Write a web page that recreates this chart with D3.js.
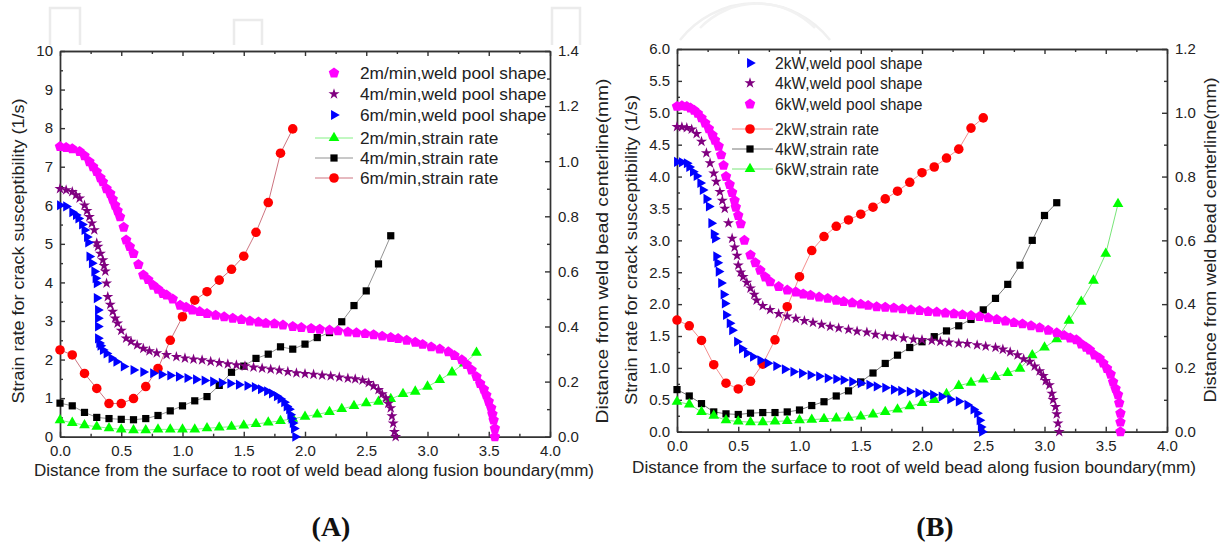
<!DOCTYPE html>
<html>
<head>
<meta charset="utf-8">
<script src="https://cdn.jsdelivr.net/npm/d3@7"></script>
<style>
  body { margin: 0; background: #fff; }
  svg text { font-family: "Liberation Sans", Arial, sans-serif; fill: #222; }
</style>
</head>
<body>
<div id="chart"></div>
<script>
// ---------- panel A : welding speed ----------
// weld pool shape, distance from centerline (mm, right axis)
const poolA2m = [[0,1.053],[0.05,1.05],[0.1,1.045],[0.16,1.035],[0.2,1.02],[0.24,0.998],[0.27,0.98],[0.3,0.962],[0.33,0.94],[0.35,0.925],[0.38,0.9],[0.41,0.883],[0.43,0.862],[0.45,0.84],[0.47,0.82],[0.49,0.798],[0.52,0.76],[0.54,0.714],[0.57,0.69],[0.6,0.665],[0.64,0.625],[0.68,0.587],[0.72,0.57],[0.76,0.55],[0.8,0.535],[0.84,0.52],[0.87,0.514],[0.92,0.5],[0.98,0.477],[1.03,0.47],[1.08,0.46],[1.14,0.454],[1.2,0.447],[1.27,0.441],[1.34,0.435],[1.41,0.43],[1.48,0.425],[1.55,0.42],[1.62,0.416],[1.68,0.412],[1.75,0.41],[1.82,0.405],[1.9,0.4],[1.97,0.396],[2.05,0.393],[2.12,0.39],[2.2,0.387],[2.27,0.384],[2.35,0.38],[2.42,0.377],[2.49,0.374],[2.56,0.37],[2.63,0.365],[2.7,0.36],[2.76,0.356],[2.83,0.35],[2.9,0.343],[2.96,0.335],[3.03,0.326],[3.1,0.318],[3.17,0.308],[3.22,0.295],[3.28,0.279],[3.32,0.262],[3.36,0.242],[3.4,0.218],[3.43,0.193],[3.46,0.172],[3.48,0.151],[3.5,0.128],[3.52,0.104],[3.53,0.082],[3.54,0.06],[3.55,0.03],[3.55,0]];
const poolA4m = [[0,0.9],[0.05,0.895],[0.1,0.889],[0.13,0.877],[0.16,0.865],[0.2,0.84],[0.22,0.82],[0.24,0.798],[0.26,0.775],[0.28,0.75],[0.3,0.703],[0.31,0.69],[0.33,0.665],[0.35,0.641],[0.36,0.62],[0.37,0.6],[0.38,0.557],[0.39,0.508],[0.41,0.48],[0.43,0.454],[0.45,0.43],[0.47,0.412],[0.5,0.385],[0.54,0.357],[0.58,0.345],[0.63,0.333],[0.68,0.32],[0.73,0.311],[0.79,0.304],[0.87,0.297],[0.95,0.29],[1.02,0.285],[1.09,0.281],[1.16,0.278],[1.23,0.273],[1.3,0.268],[1.37,0.264],[1.44,0.26],[1.51,0.256],[1.58,0.252],[1.65,0.248],[1.72,0.245],[1.79,0.241],[1.86,0.236],[1.93,0.231],[2.0,0.228],[2.07,0.226],[2.14,0.223],[2.21,0.22],[2.28,0.216],[2.35,0.212],[2.41,0.209],[2.47,0.205],[2.52,0.196],[2.56,0.184],[2.6,0.17],[2.63,0.155],[2.66,0.14],[2.68,0.12],[2.7,0.104],[2.71,0.075],[2.72,0.049],[2.73,0.018],[2.74,0]];
const poolA6m = [[0,0.84],[0.05,0.836],[0.1,0.815],[0.13,0.805],[0.15,0.792],[0.18,0.77],[0.2,0.75],[0.22,0.725],[0.23,0.705],[0.24,0.654],[0.26,0.63],[0.28,0.6],[0.29,0.575],[0.3,0.557],[0.3,0.503],[0.31,0.46],[0.31,0.43],[0.31,0.4],[0.31,0.357],[0.32,0.34],[0.33,0.33],[0.35,0.315],[0.38,0.302],[0.42,0.285],[0.46,0.272],[0.52,0.255],[0.6,0.242],[0.68,0.235],[0.76,0.23],[0.83,0.226],[0.9,0.222],[0.97,0.218],[1.04,0.213],[1.11,0.208],[1.18,0.204],[1.25,0.2],[1.32,0.196],[1.39,0.193],[1.46,0.189],[1.53,0.185],[1.59,0.18],[1.64,0.172],[1.69,0.165],[1.73,0.157],[1.77,0.147],[1.8,0.137],[1.83,0.125],[1.85,0.11],[1.87,0.1],[1.88,0.08],[1.89,0.065],[1.9,0.05],[1.91,0.03],[1.92,0]];
// strain rate (1/s, left axis)
const strainA2m = [[0,0.43],[0.1,0.36],[0.2,0.3],[0.3,0.26],[0.4,0.22],[0.5,0.19],[0.6,0.17],[0.7,0.17],[0.8,0.19],[0.9,0.19],[1.0,0.19],[1.1,0.19],[1.2,0.22],[1.3,0.24],[1.4,0.26],[1.5,0.29],[1.6,0.33],[1.7,0.37],[1.8,0.41],[1.9,0.47],[2.0,0.52],[2.1,0.58],[2.2,0.64],[2.3,0.72],[2.4,0.8],[2.5,0.87],[2.6,0.91],[2.7,0.98],[2.8,1.11],[2.9,1.17],[3.0,1.3],[3.1,1.47],[3.2,1.67],[3.3,1.9],[3.4,2.18]];
const strainA4m = [[0,0.87],[0.1,0.8],[0.2,0.63],[0.3,0.5],[0.4,0.47],[0.5,0.45],[0.6,0.44],[0.7,0.47],[0.8,0.55],[0.9,0.67],[1.0,0.8],[1.1,0.93],[1.2,1.04],[1.3,1.33],[1.4,1.67],[1.5,1.83],[1.6,2.03],[1.7,2.14],[1.8,2.33],[1.9,2.27],[2.0,2.4],[2.1,2.57],[2.2,2.7],[2.3,2.98],[2.4,3.4],[2.5,3.78],[2.6,4.48],[2.7,5.21]];
const strainA6m = [[0,2.25],[0.1,2.12],[0.2,1.64],[0.3,1.25],[0.4,0.86],[0.5,0.86],[0.6,0.99],[0.7,1.3],[0.8,1.77],[0.9,2.5],[1.0,3.11],[1.1,3.54],[1.2,3.76],[1.3,4.06],[1.4,4.34],[1.5,4.68],[1.6,5.3],[1.7,6.07],[1.8,7.35],[1.9,7.98]];

// ---------- panel B : laser power ----------
const poolB2kW = [[0,0.846],[0.04,0.845],[0.08,0.842],[0.1,0.83],[0.13,0.815],[0.16,0.802],[0.19,0.78],[0.21,0.758],[0.24,0.73],[0.26,0.706],[0.28,0.654],[0.3,0.62],[0.31,0.606],[0.32,0.55],[0.33,0.53],[0.34,0.502],[0.36,0.466],[0.38,0.43],[0.39,0.402],[0.4,0.366],[0.43,0.34],[0.45,0.318],[0.49,0.282],[0.53,0.26],[0.57,0.246],[0.62,0.235],[0.68,0.224],[0.74,0.215],[0.81,0.206],[0.88,0.196],[0.95,0.188],[1.02,0.183],[1.09,0.178],[1.16,0.174],[1.23,0.168],[1.3,0.165],[1.36,0.162],[1.43,0.157],[1.5,0.152],[1.57,0.147],[1.63,0.142],[1.7,0.138],[1.77,0.132],[1.83,0.128],[1.9,0.126],[1.97,0.122],[2.03,0.118],[2.09,0.116],[2.16,0.11],[2.23,0.102],[2.3,0.095],[2.37,0.084],[2.42,0.07],[2.45,0.058],[2.47,0.036],[2.48,0.015],[2.49,0]];
const poolB4kW = [[0,0.956],[0.04,0.955],[0.08,0.953],[0.12,0.948],[0.16,0.934],[0.2,0.91],[0.24,0.874],[0.27,0.842],[0.3,0.81],[0.32,0.784],[0.35,0.752],[0.37,0.725],[0.39,0.7],[0.42,0.654],[0.45,0.606],[0.47,0.578],[0.49,0.552],[0.5,0.522],[0.52,0.5],[0.54,0.486],[0.57,0.468],[0.6,0.45],[0.63,0.43],[0.65,0.412],[0.7,0.395],[0.76,0.382],[0.83,0.37],[0.9,0.362],[0.97,0.355],[1.04,0.348],[1.11,0.342],[1.18,0.336],[1.25,0.33],[1.32,0.325],[1.4,0.32],[1.47,0.315],[1.55,0.312],[1.62,0.305],[1.7,0.3],[1.77,0.298],[1.85,0.294],[1.93,0.29],[2.0,0.288],[2.08,0.286],[2.15,0.283],[2.22,0.28],[2.3,0.277],[2.37,0.276],[2.45,0.272],[2.52,0.268],[2.6,0.264],[2.66,0.258],[2.72,0.25],[2.78,0.24],[2.83,0.228],[2.88,0.22],[2.92,0.205],[2.96,0.19],[2.99,0.175],[3.01,0.16],[3.04,0.146],[3.06,0.12],[3.07,0.1],[3.09,0.078],[3.1,0.055],[3.11,0.026],[3.12,0]];
const poolB6kW = [[0,1.02],[0.04,1.022],[0.08,1.02],[0.11,1.015],[0.14,1.008],[0.17,0.998],[0.2,0.984],[0.23,0.968],[0.26,0.95],[0.29,0.93],[0.31,0.914],[0.34,0.895],[0.36,0.868],[0.38,0.835],[0.4,0.8],[0.43,0.775],[0.45,0.75],[0.47,0.725],[0.48,0.704],[0.5,0.678],[0.52,0.652],[0.55,0.6],[0.6,0.554],[0.64,0.53],[0.68,0.506],[0.72,0.485],[0.76,0.47],[0.83,0.455],[0.9,0.444],[0.97,0.438],[1.03,0.432],[1.09,0.428],[1.16,0.422],[1.23,0.418],[1.3,0.412],[1.36,0.408],[1.43,0.404],[1.5,0.4],[1.56,0.396],[1.63,0.392],[1.7,0.39],[1.77,0.388],[1.84,0.385],[1.91,0.382],[1.98,0.38],[2.05,0.377],[2.12,0.375],[2.19,0.372],[2.26,0.37],[2.33,0.367],[2.4,0.364],[2.47,0.361],[2.54,0.357],[2.61,0.352],[2.68,0.347],[2.75,0.342],[2.82,0.338],[2.89,0.332],[2.96,0.326],[3.03,0.318],[3.1,0.31],[3.16,0.302],[3.21,0.294],[3.26,0.288],[3.3,0.275],[3.34,0.265],[3.37,0.256],[3.41,0.24],[3.45,0.23],[3.48,0.215],[3.51,0.198],[3.54,0.18],[3.56,0.156],[3.58,0.135],[3.6,0.116],[3.61,0.09],[3.62,0.058],[3.62,0.03],[3.62,0]];
const strainB2kW = [[0,1.75],[0.1,1.66],[0.2,1.43],[0.3,1.05],[0.4,0.76],[0.5,0.67],[0.6,0.79],[0.7,1.06],[0.8,1.44],[0.9,1.96],[1.0,2.43],[1.1,2.84],[1.2,3.06],[1.3,3.22],[1.4,3.32],[1.5,3.41],[1.6,3.52],[1.7,3.65],[1.8,3.77],[1.9,3.91],[2.0,4.06],[2.1,4.15],[2.2,4.29],[2.3,4.43],[2.4,4.76],[2.5,4.92]];
const strainB4kW = [[0,0.66],[0.1,0.56],[0.2,0.44],[0.3,0.31],[0.4,0.28],[0.5,0.27],[0.6,0.29],[0.7,0.3],[0.8,0.3],[0.9,0.31],[1.0,0.34],[1.1,0.41],[1.2,0.47],[1.3,0.56],[1.4,0.64],[1.5,0.78],[1.6,0.92],[1.7,1.07],[1.8,1.2],[1.9,1.32],[2.0,1.41],[2.1,1.49],[2.2,1.58],[2.3,1.66],[2.4,1.76],[2.5,1.91],[2.6,2.09],[2.7,2.31],[2.8,2.61],[2.9,3.0],[3.0,3.39],[3.1,3.59]];
const strainB6kW = [[0,0.47],[0.1,0.43],[0.2,0.31],[0.3,0.25],[0.4,0.18],[0.5,0.16],[0.6,0.15],[0.7,0.15],[0.8,0.16],[0.9,0.17],[1.0,0.18],[1.1,0.19],[1.2,0.2],[1.3,0.21],[1.4,0.22],[1.5,0.24],[1.6,0.27],[1.7,0.31],[1.8,0.35],[1.9,0.4],[2.0,0.45],[2.1,0.5],[2.2,0.59],[2.3,0.72],[2.4,0.77],[2.5,0.82],[2.6,0.86],[2.7,0.92],[2.8,0.99],[2.9,1.2],[3.0,1.32],[3.1,1.45],[3.2,1.74],[3.3,2.04],[3.4,2.37],[3.5,2.79],[3.6,3.57]];

// ticks
const xMajor = [0, 0.5, 1, 1.5, 2, 2.5, 3, 3.5, 4];
const xMinor = [0.25, 0.75, 1.25, 1.75, 2.25, 2.75, 3.25, 3.75];
const yLeftMajorA = [0, 1, 2, 3, 4, 5, 6, 7, 8, 9, 10];
const yLeftMinorA = [0.5, 1.5, 2.5, 3.5, 4.5, 5.5, 6.5, 7.5, 8.5, 9.5];
const yRightMajorA = [0, 0.2, 0.4, 0.6, 0.8, 1.0, 1.2, 1.4];
const yRightMinorA = [0.1, 0.3, 0.5, 0.7, 0.9, 1.1, 1.3];
const yLeftMajorB = [0, 0.5, 1, 1.5, 2, 2.5, 3, 3.5, 4, 4.5, 5, 5.5, 6];
const yLeftMinorB = [0.25, 0.75, 1.25, 1.75, 2.25, 2.75, 3.25, 3.75, 4.25, 4.75, 5.25, 5.75];
const yRightMajorB = [0, 0.2, 0.4, 0.6, 0.8, 1.0, 1.2];
const yRightMinorB = [0.1, 0.3, 0.5, 0.7, 0.9, 1.1];

const xTitle = 'Distance from the surface to root of weld bead along fusion boundary(mm)';
const yLeftTitle = 'Strain rate for crack susceptibility (1/s)';
const yRightTitle = 'Distance from weld bead centerline(mm)';

const COL = {magenta: '#ff00ff', purple: '#800080', blue: '#0000ff', green: '#00ff00', black: '#000000', red: '#ff0000'};

// custom symbols
const symPentagon = {
  draw(ctx, size) {
    const r = Math.sqrt(size / 2.378);
    for (let k = 0; k < 5; k++) {
      const a = -Math.PI / 2 + k * 2 * Math.PI / 5;
      if (k === 0) ctx.moveTo(r * Math.cos(a), r * Math.sin(a));
      else ctx.lineTo(r * Math.cos(a), r * Math.sin(a));
    }
    ctx.closePath();
  }
};
const symRightTri = {
  draw(ctx, size) {
    const r = Math.sqrt(size / 1.299);
    ctx.moveTo(r, 0);
    ctx.lineTo(-r / 2, r * 0.866);
    ctx.lineTo(-r / 2, -r * 0.866);
    ctx.closePath();
  }
};
const MARK = {
  pentagon: {type: symPentagon, size: 72},
  star: {type: d3.symbolStar, size: 38},
  rtri: {type: symRightTri, size: 44},
  tri: {type: d3.symbolTriangle, size: 50},
  square: {type: d3.symbolSquare, size: 52},
  circle: {type: d3.symbolCircle, size: 72}
};

const svg = d3.select('#chart').append('svg')
    .attr('width', 1224)
    .attr('height', 550);

// faint watermark shapes from the source page
const deco = svg.append('g').attr('fill', 'none').attr('stroke', '#ebebeb').attr('stroke-width', 2.5);
deco.append('path').attr('d', 'M50,45V8H80V45');
deco.append('path').attr('d', 'M234,45V20H262V45');
deco.append('path').attr('d', 'M552,45V8H580V45');
deco.append('path').attr('d', 'M680,40 A 95 95 0 0 1 830,40').attr('stroke', '#f0f0f0');
deco.append('path').attr('d', 'M700,28 A 80 80 0 0 1 815,28').attr('stroke', '#f2f2f2');

function drawPanel(cfg) {
  const x = d3.scaleLinear().domain([0, 4]).range([cfg.x0, cfg.x1]);
  const yL = d3.scaleLinear().domain([0, cfg.yLmax]).range([cfg.y1, cfg.y0]);
  const yR = d3.scaleLinear().domain([0, cfg.yRmax]).range([cfg.y1, cfg.y0]);
  const g = svg.append('g');

  const styleAxis = sel => {
    sel.selectAll('path, line').attr('stroke', '#333').attr('stroke-width', 1.4);
    sel.selectAll('text').attr('font-size', 15).attr('fill', '#222')
      .style('font-family', '"Liberation Sans", Arial, sans-serif');
  };

  // bottom
  g.append('g').attr('transform', `translate(0,${cfg.y1})`)
    .call(d3.axisBottom(x).tickValues(xMajor).tickSizeInner(-5).tickSizeOuter(0).tickPadding(9).tickFormat(d3.format('.1f')))
    .call(styleAxis);
  g.append('g').attr('transform', `translate(0,${cfg.y1})`)
    .call(d3.axisBottom(x).tickValues(xMinor).tickSizeInner(-3).tickSizeOuter(0).tickFormat(''))
    .call(styleAxis);
  // top (mirror)
  g.append('g').attr('transform', `translate(0,${cfg.y0})`)
    .call(d3.axisTop(x).tickValues(xMajor).tickSizeInner(-5).tickSizeOuter(0).tickFormat(''))
    .call(styleAxis);
  g.append('g').attr('transform', `translate(0,${cfg.y0})`)
    .call(d3.axisTop(x).tickValues(xMinor).tickSizeInner(-3).tickSizeOuter(0).tickFormat(''))
    .call(styleAxis);
  // left
  g.append('g').attr('transform', `translate(${cfg.x0},0)`)
    .call(d3.axisLeft(yL).tickValues(cfg.yLmajor).tickSizeInner(-5).tickSizeOuter(0).tickPadding(7).tickFormat(cfg.yLfmt))
    .call(styleAxis);
  g.append('g').attr('transform', `translate(${cfg.x0},0)`)
    .call(d3.axisLeft(yL).tickValues(cfg.yLminor).tickSizeInner(-3).tickSizeOuter(0).tickFormat(''))
    .call(styleAxis);
  // right
  g.append('g').attr('transform', `translate(${cfg.x1},0)`)
    .call(d3.axisRight(yR).tickValues(cfg.yRmajor).tickSizeInner(-5).tickSizeOuter(0).tickPadding(8).tickFormat(d3.format('.1f')))
    .call(styleAxis);
  g.append('g').attr('transform', `translate(${cfg.x1},0)`)
    .call(d3.axisRight(yR).tickValues(cfg.yRminor).tickSizeInner(-3).tickSizeOuter(0).tickFormat(''))
    .call(styleAxis);

  // axis titles (stretched to the widths seen in the figure)
  g.append('text').attr('x', cfg.xTitleX).attr('y', cfg.xTitleY)
    .attr('text-anchor', 'middle').attr('font-size', 16)
    .attr('textLength', cfg.xTitleLen).attr('lengthAdjust', 'spacingAndGlyphs').text(xTitle);
  g.append('text').attr('transform', `translate(${cfg.yLTitleX},${cfg.yLTitleY}) rotate(-90)`)
    .attr('text-anchor', 'middle').attr('font-size', 16)
    .attr('textLength', cfg.yLTitleLen).attr('lengthAdjust', 'spacingAndGlyphs').text(yLeftTitle);
  g.append('text').attr('transform', `translate(${cfg.yRTitleX},${cfg.yRTitleY}) rotate(-90)`)
    .attr('text-anchor', 'middle').attr('font-size', 16)
    .attr('textLength', cfg.yRTitleLen).attr('lengthAdjust', 'spacingAndGlyphs').text(yRightTitle);

  // strain rate series (left axis): thin line + markers
  const line = d3.line().x(d => x(d[0])).y(d => yL(d[1]));
  cfg.strain.forEach(s => {
    g.append('path').datum(s.data)
      .attr('fill', 'none').attr('stroke', s.lineColor).attr('stroke-width', 0.8)
      .attr('d', line);
    g.append('g').selectAll('path').data(s.data).join('path')
      .attr('transform', d => `translate(${x(d[0])},${yL(d[1])})`)
      .attr('d', d3.symbol(MARK[s.mark].type, MARK[s.mark].size))
      .attr('fill', s.color);
  });
  // weld pool shape series (right axis): markers only
  cfg.pool.forEach(s => {
    g.append('g').selectAll('path').data(s.data).join('path')
      .attr('transform', d => `translate(${x(d[0])},${yR(d[1])})`)
      .attr('d', d3.symbol(MARK[s.mark].type, MARK[s.mark].size))
      .attr('fill', s.color);
  });

  // legend
  const lg = g.append('g');
  cfg.legend.forEach((s, i) => {
    const yy = cfg.legY[i];
    if (s.lineColor) {
      lg.append('line').attr('x1', cfg.legLine[0]).attr('x2', cfg.legLine[1])
        .attr('y1', yy).attr('y2', yy).attr('stroke', s.lineColor).attr('stroke-width', 0.8);
    }
    lg.append('path').attr('transform', `translate(${cfg.legMarkX},${yy})`)
      .attr('d', d3.symbol(MARK[s.mark].type, MARK[s.mark].size))
      .attr('fill', s.color);
    lg.append('text').attr('x', cfg.legTextX).attr('y', yy).attr('dy', '0.36em')
      .attr('font-size', cfg.legFont).text(s.label);
  });

  // panel label
  svg.append('text').attr('x', cfg.tagX).attr('y', 536).attr('text-anchor', 'middle')
    .attr('font-size', 28).attr('font-weight', 'bold')
    .style('font-family', '"Liberation Serif", "DejaVu Serif", serif').style('fill', '#111')
    .text(cfg.tag);
}

// panel A
const poolSeriesA = [
  {label: '2m/min,weld pool shape', data: poolA2m, mark: 'pentagon', color: COL.magenta},
  {label: '4m/min,weld pool shape', data: poolA4m, mark: 'star', color: COL.purple},
  {label: '6m/min,weld pool shape', data: poolA6m, mark: 'rtri', color: COL.blue}
];
const strainSeriesA = [
  {label: '2m/min,strain rate', data: strainA2m, mark: 'tri', color: COL.green, lineColor: '#66ee66'},
  {label: '4m/min,strain rate', data: strainA4m, mark: 'square', color: COL.black, lineColor: '#777'},
  {label: '6m/min,strain rate', data: strainA6m, mark: 'circle', color: COL.red, lineColor: '#c05060'}
];
drawPanel({
  x0: 60, x1: 550, y0: 51, y1: 436.7,
  yLmax: 10, yRmax: 1.4,
  yLmajor: yLeftMajorA, yLminor: yLeftMinorA, yLfmt: d3.format('d'),
  yRmajor: yRightMajorA, yRminor: yRightMinorA,
  xTitleX: 314, xTitleY: 476, xTitleLen: 560,
  yLTitleX: 24, yLTitleY: 251, yLTitleLen: 305,
  yRTitleX: 608, yRTitleY: 251, yRTitleLen: 345,
  strain: strainSeriesA, pool: poolSeriesA,
  legend: poolSeriesA.concat(strainSeriesA),
  legY: [73, 94, 115, 138, 158, 178],
  legLine: [315, 353], legMarkX: 334, legTextX: 360, legFont: 17.3,
  tagX: 331, tag: '(A)'
});

// panel B
const poolSeriesB = [
  {label: '2kW,weld pool shape', data: poolB2kW, mark: 'rtri', color: COL.blue},
  {label: '4kW,weld pool shape', data: poolB4kW, mark: 'star', color: COL.purple},
  {label: '6kW,weld pool shape', data: poolB6kW, mark: 'pentagon', color: COL.magenta}
];
const strainSeriesB = [
  {label: '2kW,strain rate', data: strainB2kW, mark: 'circle', color: COL.red, lineColor: '#f07070'},
  {label: '4kW,strain rate', data: strainB4kW, mark: 'square', color: COL.black, lineColor: '#555'},
  {label: '6kW,strain rate', data: strainB6kW, mark: 'tri', color: COL.green, lineColor: '#55dd55'}
];
drawPanel({
  x0: 677, x1: 1167, y0: 49, y1: 431.7,
  yLmax: 6, yRmax: 1.2,
  yLmajor: yLeftMajorB, yLminor: yLeftMinorB, yLfmt: d3.format('.1f'),
  yRmajor: yRightMajorB, yRminor: yRightMinorB,
  xTitleX: 914, xTitleY: 473, xTitleLen: 564,
  yLTitleX: 637, yLTitleY: 250, yLTitleLen: 310,
  yRTitleX: 1216, yRTitleY: 240, yRTitleLen: 325,
  strain: strainSeriesB, pool: poolSeriesB,
  legend: poolSeriesB.concat(strainSeriesB),
  legY: [63, 83, 104, 129, 149, 169],
  legLine: [732, 773], legMarkX: 750, legTextX: 775, legFont: 15.6,
  tagX: 935, tag: '(B)'
});
</script>
</body>
</html>
